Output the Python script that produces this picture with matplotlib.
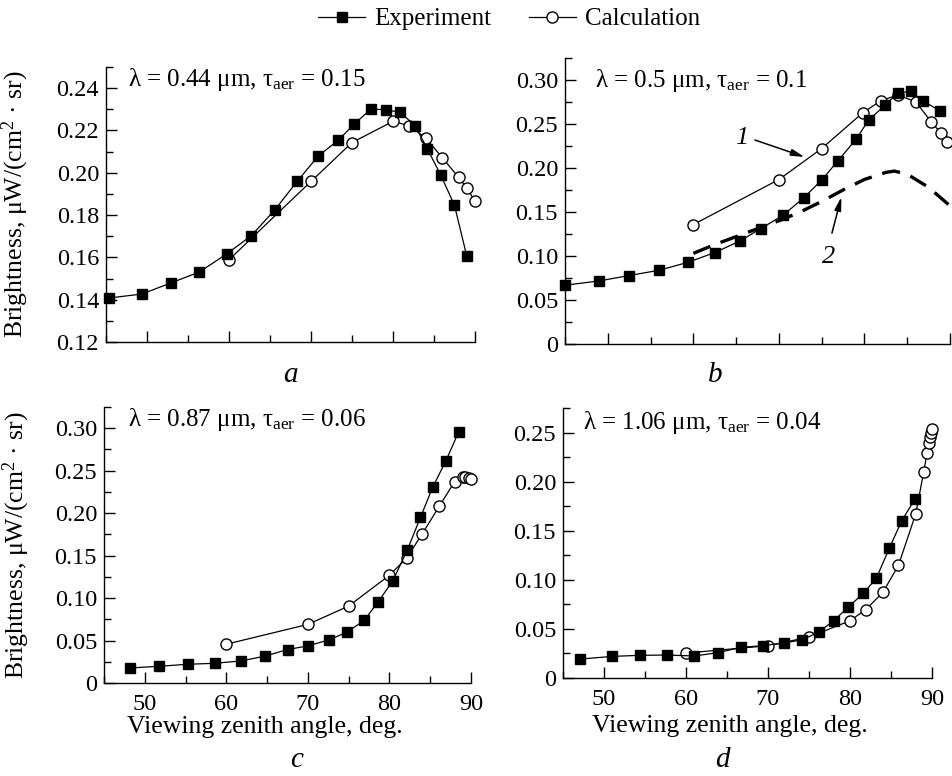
import matplotlib
matplotlib.use("Agg")
import matplotlib.pyplot as plt
from matplotlib.ticker import MultipleLocator, FuncFormatter
from matplotlib.lines import Line2D

plt.rcParams['font.family'] = ['Liberation Serif', 'DejaVu Serif']
plt.rcParams['mathtext.fontset'] = 'custom'
plt.rcParams['mathtext.rm'] = 'Liberation Serif'
plt.rcParams['mathtext.it'] = 'Liberation Serif:italic'
plt.rcParams['mathtext.bf'] = 'Liberation Serif:bold'

# panel a: 0.44 um
a_exp_x = [45.4, 49.4, 52.9, 56.4, 59.7, 62.7, 65.6, 68.3, 70.9, 73.3, 75.3, 77.3, 79.2, 80.9, 82.7, 84.2, 85.8, 87.5, 89.0]
a_exp_y = [0.1408, 0.1427, 0.1479, 0.1531, 0.1616, 0.1702, 0.1825, 0.1959, 0.2080, 0.2153, 0.2231, 0.2301, 0.2298, 0.2285, 0.2222, 0.2112, 0.1991, 0.1846, 0.1605]
a_calc_x = [60, 70, 75, 80, 82, 84, 86, 88, 89, 90]
a_calc_y = [0.1589, 0.1959, 0.2143, 0.2243, 0.2222, 0.2164, 0.2072, 0.1978, 0.1928, 0.1865]

# panel b: 0.5 um
b_exp_x = [45.0, 49.0, 52.5, 56.0, 59.4, 62.5, 65.4, 67.9, 70.5, 72.9, 75.0, 76.9, 79.0, 80.5, 82.4, 83.9, 85.4, 86.9, 88.8]
b_exp_y = [0.0668, 0.0717, 0.0778, 0.0838, 0.0929, 0.1039, 0.1168, 0.1312, 0.1464, 0.1661, 0.1862, 0.2082, 0.2324, 0.2546, 0.2712, 0.2853, 0.2870, 0.2762, 0.2648]
b_calc_x = [60, 70, 75, 79.8, 81.9, 83.9, 86.0, 87.8, 88.9, 89.7]
b_calc_y = [0.1357, 0.1869, 0.2221, 0.2627, 0.2764, 0.2830, 0.2752, 0.2525, 0.2400, 0.2293]
b_model_x = [60, 62.5, 65, 67.5, 70, 72.5, 75, 77.5, 80, 82.5, 83.5, 85, 87.5, 90]
b_model_y = [0.103, 0.113, 0.122, 0.131, 0.140, 0.150, 0.162, 0.175, 0.187, 0.195, 0.1965, 0.193, 0.178, 0.157]

# panel c: 0.87 um
c_exp_x = [48.2, 51.8, 55.3, 58.6, 61.8, 64.7, 67.5, 70.0, 72.6, 74.8, 76.9, 78.6, 80.4, 82.2, 83.8, 85.3, 86.9, 88.5]
c_exp_y = [0.0177, 0.0197, 0.0221, 0.0232, 0.0260, 0.0315, 0.0394, 0.0437, 0.0508, 0.0599, 0.0737, 0.0954, 0.1202, 0.1568, 0.1950, 0.2305, 0.2612, 0.2959]
c_calc_x = [60, 70, 75, 80, 82.1, 84.0, 86.1, 88.0, 89.0, 89.3, 89.7, 90.0]
c_calc_y = [0.0457, 0.0690, 0.0906, 0.1269, 0.1470, 0.1753, 0.2080, 0.2372, 0.2423, 0.2427, 0.2415, 0.2407]

# panel d: 1.06 um
d_exp_x = [47.1, 51.0, 54.4, 57.7, 61.0, 63.9, 66.7, 69.4, 71.9, 74.2, 76.2, 78.0, 79.8, 81.6, 83.2, 84.8, 86.3, 87.9]
d_exp_y = [0.0193, 0.0220, 0.0231, 0.0234, 0.0224, 0.0258, 0.0312, 0.0329, 0.0356, 0.0390, 0.0468, 0.0583, 0.0722, 0.0861, 0.1014, 0.1322, 0.1600, 0.1820]
d_calc_x = [60, 70, 75, 80, 81.9, 84.0, 85.9, 88.0, 89.0, 89.4, 89.6, 89.7, 89.85, 90.0]
d_calc_y = [0.0254, 0.0329, 0.0417, 0.0583, 0.0695, 0.0871, 0.1146, 0.1668, 0.2102, 0.2295, 0.2395, 0.2456, 0.2496, 0.2537]

titles = ["λ = 0.44 μm, τ$_{\\mathrm{aer}}$ = 0.15",
          "λ = 0.5 μm, τ$_{\\mathrm{aer}}$ = 0.1",
          "λ = 0.87 μm, τ$_{\\mathrm{aer}}$ = 0.06",
          "λ = 1.06 μm, τ$_{\\mathrm{aer}}$ = 0.04"]
letters = ["a", "b", "c", "d"]
ylabel = "Brightness, μW/(cm$^2$ · sr)"
xlabel = "Viewing zenith angle, deg."

W, H = 953, 776
fig = plt.figure(figsize=(W / 100, H / 100), dpi=100)

def px_axes(l, t, r, b):
    return fig.add_axes([l / W, 1 - b / H, (r - l) / W, (b - t) / H])

ax_a = px_axes(106, 67, 475, 342)
ax_b = px_axes(565, 58, 950, 344)
ax_c = px_axes(104, 407, 471, 683)
ax_d = px_axes(563, 408, 932, 678)

def yfmt(v, pos):
    if abs(v) < 1e-9:
        return "0"
    return "%.2f" % v

def style(ax, ylim, ymaj, show_x):
    ax.set_xlim(45, 90)
    ax.set_ylim(*ylim)
    for s in ["top", "right"]:
        ax.spines[s].set_visible(False)
    for s in ["left", "bottom"]:
        ax.spines[s].set_linewidth(1.0)
    ax.xaxis.set_major_locator(MultipleLocator(10))
    ax.xaxis.set_minor_locator(MultipleLocator(5))
    ax.yaxis.set_major_locator(MultipleLocator(ymaj))
    ax.yaxis.set_minor_locator(MultipleLocator(ymaj / 2))
    ax.yaxis.set_major_formatter(FuncFormatter(yfmt))
    ax.tick_params(which="both", direction="in", top=False, right=False, width=1.0)
    ax.tick_params(which="major", length=8)
    ax.tick_params(which="minor", length=5)
    ax.tick_params(axis="y", labelsize=17.5, pad=5)
    ax.tick_params(axis="x", labelsize=17.5, pad=8, labelbottom=show_x)

def draw(ax, ex, ey, cx, cy):
    ax.plot(cx, cy, "-", color="black", lw=0.9, marker="o", ms=8,
            mfc="white", mec="black", mew=1.0, clip_on=False, zorder=3)
    ax.plot(ex, ey, "-", color="black", lw=0.9, marker="s", ms=7.5,
            mfc="black", mec="black", clip_on=False, zorder=4)

style(ax_a, (0.12, 0.25), 0.02, False)
style(ax_b, (0, 0.325), 0.05, False)
style(ax_c, (0, 0.325), 0.05, True)
style(ax_d, (0, 0.275), 0.05, True)

draw(ax_a, a_exp_x, a_exp_y, a_calc_x, a_calc_y)
draw(ax_b, b_exp_x, b_exp_y, b_calc_x, b_calc_y)
draw(ax_c, c_exp_x, c_exp_y, c_calc_x, c_calc_y)
draw(ax_d, d_exp_x, d_exp_y, d_calc_x, d_calc_y)

ax_b.plot(b_model_x, b_model_y, color="black", lw=2.4, dashes=(5.5, 3.3), zorder=2)

# curve numbers in panel b
arrow = dict(arrowstyle="-|>,head_length=0.8,head_width=0.2", color="black", lw=1.1,
             shrinkA=0, shrinkB=0)
ax_b.annotate("", xy=(73.0, 0.2125), xytext=(67.2, 0.2318), arrowprops=arrow)
ax_b.text(65.6, 0.2345, "1", fontsize=19, style="italic", ha="center", va="center")
ax_b.annotate("", xy=(77.3, 0.167), xytext=(76.2, 0.126), arrowprops=arrow)
ax_b.text(75.8, 0.099, "2", fontsize=19, style="italic", ha="center", va="center")

for ax, t, pos in zip([ax_a, ax_b, ax_c, ax_d], titles,
                      [(0.06, 0.953), (0.078, 0.923), (0.065, 0.956), (0.054, 0.945)]):
    ax.text(pos[0], pos[1], t, transform=ax.transAxes, fontsize=18,
            ha="left", va="center")

for ax, xc in [(ax_a, -0.203), (ax_c, -0.197)]:
    ax.set_ylabel(ylabel, fontsize=18.5)
    ax.yaxis.set_label_coords(xc, 0.5)

ax_c.set_xlabel(xlabel, fontsize=18.5)
ax_c.xaxis.set_label_coords(0.439, -0.12)
ax_d.set_xlabel(xlabel, fontsize=18.5)
ax_d.xaxis.set_label_coords(0.4526, -0.138)

for ltr, (x, y) in zip(letters, [(290, 375), (715, 375), (297, 760), (722, 760)]):
    fig.text(x / W, 1 - y / H, ltr, fontsize=21, style="italic", ha="center", va="center")

handles = [Line2D([], [], color="black", lw=0.9, marker="s", ms=7.5, mfc="black", mec="black"),
           Line2D([], [], color="black", lw=0.9, marker="o", ms=8, mfc="white", mec="black")]
fig.legend(handles, ["Experiment", "Calculation"], loc="center", ncol=2,
           bbox_to_anchor=(0.534, 1 - 19 / H), frameon=False, fontsize=18,
           handlelength=1.9, handletextpad=0.35, columnspacing=1.5)

fig.savefig("out.png", dpi=100)
